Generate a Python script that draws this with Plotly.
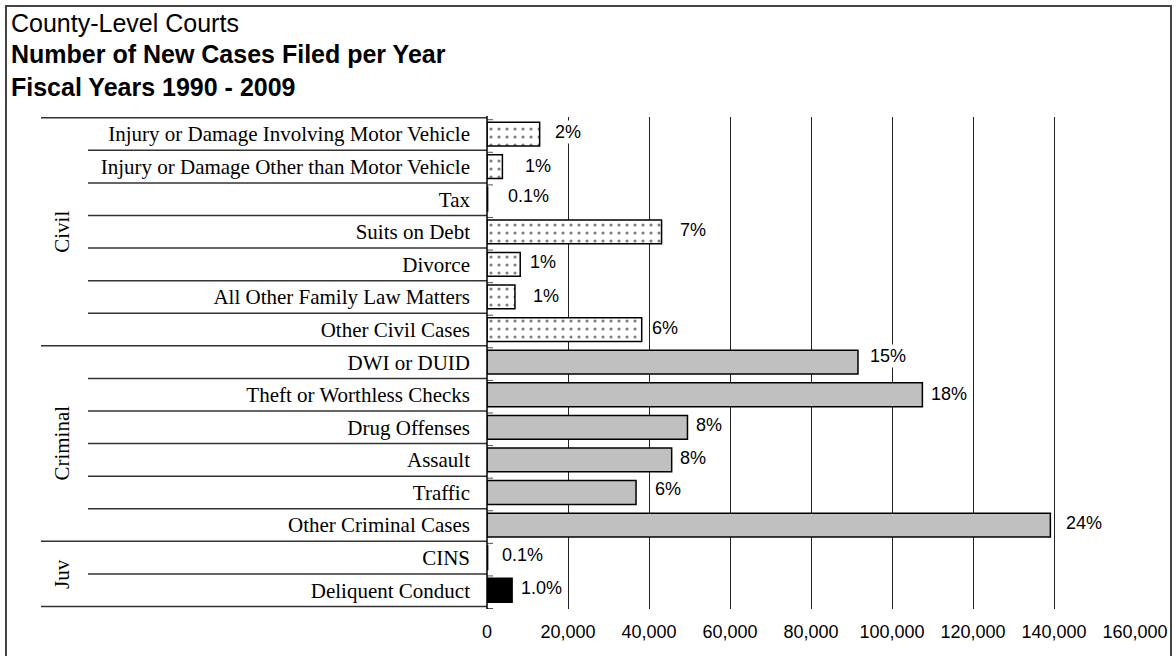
import plotly.graph_objects as go

# Case categories, top to bottom, with their group
categories = [
    "Injury or Damage Involving Motor Vehicle",
    "Injury or Damage Other than Motor Vehicle",
    "Tax",
    "Suits on Debt",
    "Divorce",
    "All Other Family Law Matters",
    "Other Civil Cases",
    "DWI or DUID",
    "Theft or Worthless Checks",
    "Drug Offenses",
    "Assault",
    "Traffic",
    "Other Criminal Cases",
    "CINS",
    "Deliquent Conduct",
]
groups = ["Civil"] * 7 + ["Criminal"] * 6 + ["Juv"] * 2
group_names = ["Civil", "Criminal", "Juv"]

# Average new cases filed per year
cases = [13000, 3800, 150, 43100, 8200, 6900, 38200,
         91600, 107500, 49500, 45600, 36800, 139100,
         150, 6200]
pct_labels = ["2%", "1%", "0.1%", "7%", "1%", "1%", "6%",
              "15%", "18%", "8%", "8%", "6%", "24%",
              "0.1%", "1.0%"]

x_ticks = [0, 20000, 40000, 60000, 80000, 100000, 120000, 140000, 160000]

W, H = 1176, 656
AX_L, AX_R = 487, 1135          # plot area, px
AX_T, AX_B = 117, 609
def px(x):
    return x / W
def py(y):
    return 1 - y / H

SERIF = "Liberation Serif, Times New Roman, serif"
SANS = "Liberation Sans, Arial, sans-serif"

fig = go.Figure()

styles = {
    "Civil": dict(color="white", line=dict(color="black", width=1.5),
                  pattern=dict(shape=".", fgcolor="black", bgcolor="white",
                               size=8, solidity=0.12)),
    "Criminal": dict(color="#c0c0c0", line=dict(color="black", width=1.5)),
    "Juv": dict(color="black", line=dict(color="black", width=1.5)),
}

for g in group_names:
    idx = [i for i, gg in enumerate(groups) if gg == g]
    fig.add_trace(go.Bar(
        x=[cases[i] for i in idx],
        y=[categories[i] for i in idx],
        orientation="h",
        marker=styles[g],
        width=0.73,
        showlegend=False,
        hoverinfo="x+y",
    ))

# value labels on white boxes
label_shift = [13, 21, 18, 16, 8, 16, 8, 10, 7, 7, 6, 17, 14, 12, 7]
label_lift = [2, 1, 3, 2, 2, 1, 2, 6, 1, 2, 2, 3, 2, 3, 2]
for i, (cat, v, t) in enumerate(zip(categories, cases, pct_labels)):
    fig.add_annotation(
        x=v, y=cat, xref="x", yref="y", text=t, showarrow=False,
        xanchor="left", yanchor="middle",
        xshift=label_shift[i], yshift=label_lift[i],
        font=dict(family=SANS, size=18, color="black"),
        bgcolor="white", borderpad=1,
    )

# row separators in the label area, plus short tick marks right of the axis
shapes = []
n = len(categories)
for b in range(n + 1):
    yb = b - 0.5
    is_group = b == 0 or b == n or groups[b] != groups[b - 1]
    x0 = px(41) if is_group else px(88)
    shapes.append(dict(type="line", xref="paper", yref="y",
                       x0=x0, x1=px(AX_L), y0=yb, y1=yb,
                       line=dict(color="#333333", width=1.5)))
    shapes.append(dict(type="line", xref="paper", yref="y",
                       x0=px(AX_L), x1=px(AX_L + 6), y0=yb + 0.06, y1=yb + 0.06,
                       line=dict(color="#555555", width=1)))

# vertical axis line
shapes.append(dict(type="line", xref="paper", yref="paper",
                   x0=px(AX_L), x1=px(AX_L), y0=py(AX_T - 1), y1=py(AX_B),
                   line=dict(color="black", width=1.5)))
# outer frame
shapes.append(dict(type="rect", xref="paper", yref="paper",
                   x0=px(6), x1=px(1171), y0=py(H + 10), y1=py(6),
                   line=dict(color="#444444", width=2), fillcolor="rgba(0,0,0,0)"))

# group labels
for g in group_names:
    idx = [i for i, gg in enumerate(groups) if gg == g]
    mid = (idx[0] + idx[-1]) / 2
    fig.add_annotation(
        x=px(62), y=mid, xref="paper", yref="y", text=g, showarrow=False,
        textangle=-90, xanchor="center", yanchor="middle",
        font=dict(family=SERIF, size=21, color="black"),
    )

# titles
titles = [("County-Level Courts", 25, 23),
          ("<b>Number of New Cases Filed per Year</b>", 25, 54),
          ("<b>Fiscal Years 1990 - 2009</b>", 25, 87)]
for text, size, yc in titles:
    fig.add_annotation(
        x=px(9), y=py(yc), xref="paper", yref="paper", text=text,
        showarrow=False, xanchor="left", yanchor="middle",
        font=dict(family=SANS, size=size, color="black"),
    )

fig.update_layout(
    width=W, height=H, autosize=False,
    margin=dict(l=0, r=0, t=0, b=0),
    paper_bgcolor="white", plot_bgcolor="white",
    bargap=0.27,
    shapes=shapes,
    xaxis=dict(
        domain=[px(AX_L), px(AX_R)], range=[0, 160000],
        tickvals=x_ticks, tickformat=",d",
        showgrid=True, gridcolor="#222222", gridwidth=1,
        zeroline=False, showline=False, ticks="",
        tickfont=dict(family=SANS, size=18, color="black"),
        ticklabelstandoff=10, automargin=False, fixedrange=True,
    ),
    yaxis=dict(
        domain=[py(AX_B), py(AX_T)],
        type="category", categoryorder="array", categoryarray=categories,
        autorange="reversed",
        showgrid=False, zeroline=False, showline=False, ticks="",
        tickfont=dict(family=SERIF, size=21, color="black"),
        ticklabelstandoff=16, automargin=False, fixedrange=True,
    ),
)

fig.write_html("out.html")
